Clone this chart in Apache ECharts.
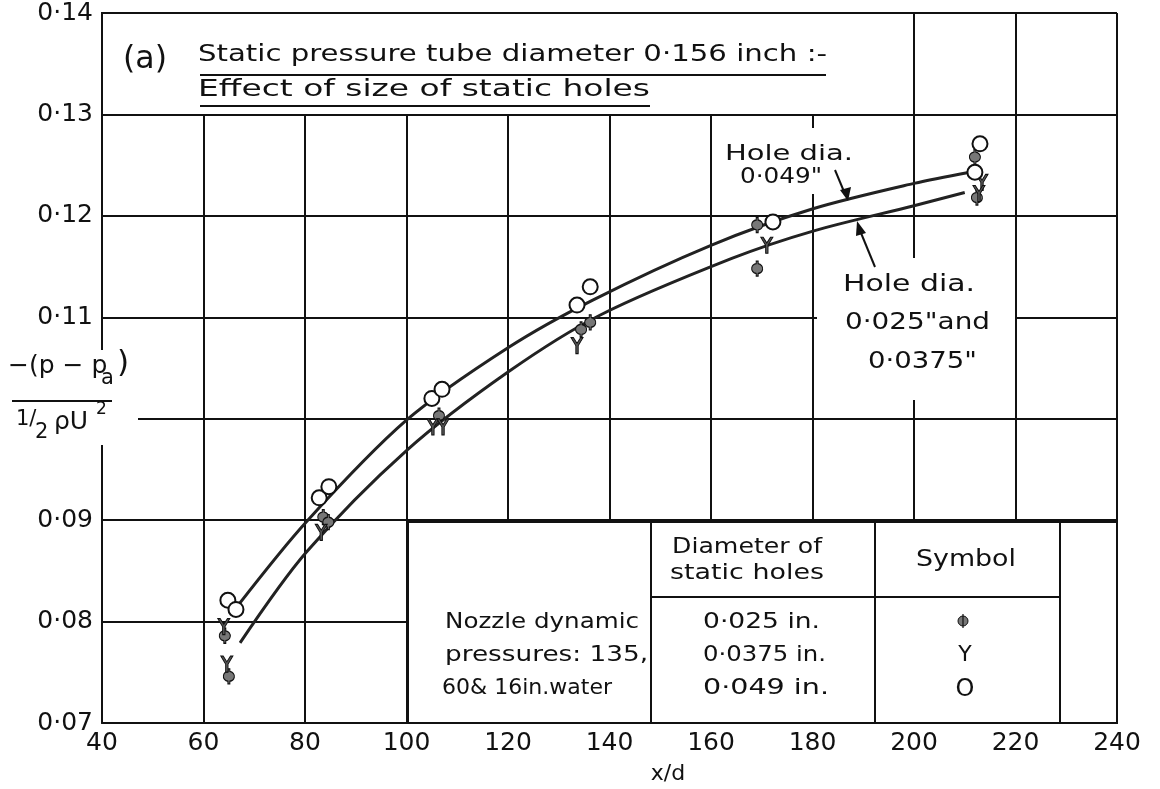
<!DOCTYPE html>
<html>
<head>
<meta charset="utf-8">
<script src="https://cdn.jsdelivr.net/npm/echarts@6/dist/echarts.min.js"></script>
<style>
  html, body { margin: 0; padding: 0; background: #fff; }
  #chart { width: 1160px; height: 789px; }
</style>
</head>
<body>
<div id="chart"></div>
<script>
// faired curves through the data
var upperCurve = [[66.8,0.0816],[80.2,0.0898],[100.1,0.0999],[120,0.1070],[136.7,0.1117],[160,0.1171],[180.1,0.1207],[200,0.1232],[211,0.1243]];
var lowerCurve = [[67.2,0.0779],[80.2,0.0868],[100.1,0.0969],[120,0.1046],[138.1,0.1102],[164.1,0.1158],[180.1,0.1185],[200,0.1210],[210,0.1223]];

// measured points, one list per static hole size
var holes025 = [[64.2,0.0786],[65.0,0.0746],[83.6,0.0903],[84.6,0.0898],[106.4,0.1003],[134.4,0.1088],[136.2,0.1095],[169.1,0.1191],[169.1,0.1148],[212.0,0.1258],[212.4,0.1218]];
var holes0375 = [[64.0,0.0795],[64.6,0.0758],[83.2,0.0888],[105.2,0.0992],[107.2,0.0992],[133.6,0.1072],[171.0,0.1171],[213.4,0.1233],[212.8,0.1222]];
var holes049 = [[64.8,0.0821],[66.4,0.0812],[82.8,0.0922],[84.7,0.0933],[105.0,0.1020],[107.0,0.1029],[133.6,0.1112],[136.2,0.1130],[172.2,0.1194],[212.0,0.1243],[213.0,0.1271]];

var tableRows = ['0·025 in.', '0·0375 in.', '0·049 in.'];
var tableSymbols = ['⌀', 'Y', 'O'];

var FONT = '"DejaVu Sans", sans-serif';
var phiPath = 'path://M4.3,0 L5.7,0 L5.7,2.06 A4,4 0 0 1 5.7,9.94 L5.7,12 L4.3,12 L4.3,9.94 A4,4 0 0 1 4.3,2.06 Z';
var yPath = 'path://M0,0 L2,0 L5,5 L8,0 L10,0 L6,7 L6,14 L4,14 L4,7 Z';

var chart = echarts.init(document.getElementById('chart'));
var measure = document.createElement('canvas').getContext('2d');

function txt(x, y, s, size, align, z) {
  return { type: 'text', x: x, y: y, z: z || 60,
    style: { text: s, font: size + 'px ' + FONT, fill: '#111', textAlign: align || 'left', textVerticalAlign: 'middle' } };
}
// lettering in the original is widely spaced: stretch text to the width it takes there
function fit(x, y, s, size, width) {
  measure.font = size + 'px ' + FONT;
  var t = txt(x, y, s, size);
  t.scaleX = width / measure.measureText(s).width;
  return t;
}
function seg(x1, y1, x2, y2, w, z) {
  return { type: 'line', z: z || 60, shape: { x1: x1, y1: y1, x2: x2, y2: y2 }, style: { stroke: '#111', lineWidth: w || 2 } };
}
function box(x, y, w, h, stroke, z) {
  return { type: 'rect', z: z || 50, shape: { x: x, y: y, width: w, height: h },
    style: { fill: '#fff', stroke: stroke ? '#111' : null, lineWidth: 2 } };
}

var graphics = [
  // title box
  box(102, 13, 812, 102, true, 50),
  fit(123, 60, '(a)', 32, 44),
  fit(198, 55, 'Static pressure tube diameter 0·156 inch :-', 23, 629),
  seg(200, 75, 826, 75, 2),
  fit(198, 90, 'Effect of size of static holes', 23, 452),
  seg(200, 106, 650, 106, 2),
  // y axis name
  box(0, 350, 138, 95, false, 50),
  txt(8, 366, '−(p − p', 25),
  txt(101, 379, 'a', 21),
  txt(117, 364, ')', 31),
  seg(12, 401, 112, 401, 2),
  txt(16, 420, '1/', 21),
  txt(35, 433, '2', 21),
  txt(54, 422, 'ρU', 25),
  txt(96, 410, '2', 17),
  // annotation 0.049
  box(720, 128, 140, 66, false, 50),
  fit(725, 154, 'Hole dia.', 22, 128),
  fit(740, 177, '0·049"', 22, 82),
  seg(835, 170, 845, 194, 2),
  { type: 'polygon', z: 60, shape: { points: [[840, 190], [851, 187], [848, 201]] }, style: { fill: '#111' } },
  // annotation 0.025 / 0.0375
  box(817, 258, 198, 142, false, 50),
  fit(843, 285, 'Hole dia.', 23, 132),
  fit(845, 323, '0·025"and', 23, 145),
  fit(868, 362, '0·0375"', 23, 109),
  seg(875, 267, 861, 233, 2),
  { type: 'polygon', z: 60, shape: { points: [[856, 236], [866, 233], [857, 221]] }, style: { fill: '#111' } },
  // table
  box(408, 522, 709, 201, true, 50),
  seg(651, 522, 651, 723, 2),
  seg(875, 522, 875, 723, 2),
  seg(1060, 522, 1060, 723, 2),
  seg(651, 597, 1060, 597, 2),
  fit(445, 622, 'Nozzle dynamic', 22, 194),
  fit(445, 655, 'pressures: 135,', 22, 203),
  fit(442, 688, '60& 16in.water', 22, 170),
  fit(672, 547, 'Diameter of', 22, 150),
  fit(670, 573, 'static holes', 22, 154),
  fit(916, 560, 'Symbol', 23, 100),
  // x axis name
  txt(668, 774, 'x/d', 22, 'center')
];
var rowWidths = [117, 123, 126];
tableRows.forEach(function (r, i) {
  graphics.push(fit(703, 622 + i * 33, r, 22, rowWidths[i]));
});
graphics.push({ type: 'circle', z: 60, shape: { cx: 963, cy: 621, r: 5 }, style: { fill: '#777', stroke: '#111', lineWidth: 1 } });
graphics.push(seg(963, 614, 963, 628, 1.2));
graphics.push(txt(965, 655, tableSymbols[1], 22, 'center'));
graphics.push(txt(965, 690, tableSymbols[2], 24, 'center'));

var option = {
  backgroundColor: '#fff',
  animation: false,
  grid: { left: 102, right: 43, top: 13, bottom: 66, show: false },
  xAxis: {
    type: 'value', min: 40, max: 240, interval: 20,
    axisLine: { show: true, lineStyle: { color: '#111', width: 2 } },
    axisTick: { show: false },
    splitLine: { show: true, lineStyle: { color: '#111', width: 2 } },
    axisLabel: { color: '#111', fontSize: 25, fontFamily: FONT, margin: 8 }
  },
  yAxis: {
    type: 'value', min: 0.07, max: 0.14, interval: 0.01,
    axisLine: { show: true, lineStyle: { color: '#111', width: 2 } },
    axisTick: { show: false },
    splitLine: { show: true, lineStyle: { color: '#111', width: 2 } },
    axisLabel: {
      color: '#111', fontSize: 25, fontFamily: FONT, margin: 9,
      formatter: function (v) { return Math.abs(v - 0.1) < 1e-6 ? '' : v.toFixed(2).replace('.', '·'); }
    }
  },
  graphic: graphics,
  series: [
    { type: 'line', data: upperCurve, smooth: 0.3, showSymbol: false, z: 3,
      lineStyle: { color: '#222', width: 3 } },
    { type: 'line', data: lowerCurve, smooth: 0.3, showSymbol: false, z: 3,
      lineStyle: { color: '#222', width: 3 } },
    { type: 'scatter', name: '0·025 in.', data: holes025, symbol: phiPath, symbolSize: [11, 15], z: 4,
      itemStyle: { color: '#777', borderColor: '#111', borderWidth: 1.2, opacity: 1 } },
    { type: 'scatter', name: '0·0375 in.', data: holes0375, symbol: yPath, symbolSize: [12, 16], z: 4,
      itemStyle: { color: '#555', borderColor: '#111', borderWidth: 1, opacity: 1 } },
    { type: 'scatter', name: '0·049 in.', data: holes049, symbol: 'circle', symbolSize: 15, z: 5,
      itemStyle: { color: '#fff', borderColor: '#111', borderWidth: 2, opacity: 1 } }
  ]
};
chart.setOption(option);
</script>
</body>
</html>
